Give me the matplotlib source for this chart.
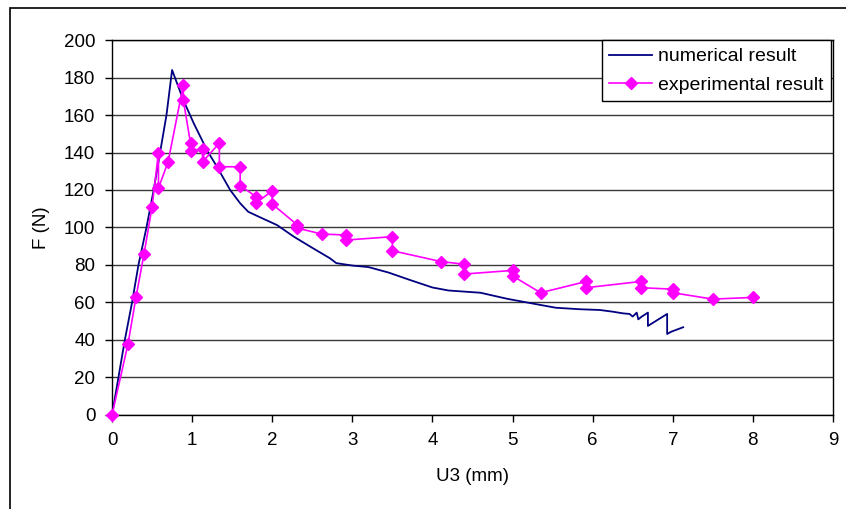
import matplotlib
matplotlib.use('Agg')
import matplotlib.pyplot as plt
from matplotlib.patches import Rectangle

plt.rcParams['font.family'] = ['Liberation Sans', 'DejaVu Sans']

# numerical result (FE curve)
u_num = [0.0, 0.08, 0.16, 0.25, 0.33, 0.43, 0.52, 0.60, 0.68, 0.75,
         0.89, 1.02, 1.185, 1.31, 1.475, 1.6, 1.70, 1.83, 2.06, 2.27,
         2.51, 2.72, 2.8, 3.0, 3.2, 3.45, 3.72, 4.0, 4.2, 4.6,
         4.93, 5.27, 5.54, 5.84, 6.09, 6.25, 6.38, 6.46, 6.50, 6.55,
         6.57, 6.61, 6.69, 6.69, 6.93, 6.93, 6.98, 7.13]
f_num = [0.0, 20, 40, 60, 80, 100, 120, 140, 160, 184,
         168, 155.6, 141.3, 132.4, 120, 112.9, 108.4, 105.8, 101.3, 95.1,
         88.9, 83.6, 81, 79.7, 78.9, 76, 72, 68, 66.4, 65.2,
         62, 59.3, 57.2, 56.4, 56, 55.1, 54.2, 53.9, 52.5, 54.6,
         51, 52.4, 54.6, 47.5, 53.9, 43.2, 44.4, 46.8]

# experimental result
u_exp = [0.0, 0.2, 0.3, 0.4, 0.5, 0.58, 0.58, 0.7, 0.89, 0.89,
         0.98, 0.98, 1.13, 1.13, 1.34, 1.34, 1.6, 1.6, 1.8, 1.8,
         2.0, 2.0, 2.31, 2.31, 2.62, 2.92, 2.92, 3.5, 3.5, 4.11,
         4.4, 4.4, 5.0, 5.0, 5.35, 5.92, 5.92, 6.6, 6.6, 7.0,
         7.0, 7.5, 8.0]
f_exp = [0.0, 38, 63, 86, 111, 140, 121, 135, 176, 168,
         145, 141, 142, 135, 145, 132.4, 132.4, 122.3, 116.4, 113.2,
         119.5, 112.5, 101.5, 99.7, 96.5, 96, 93.3, 95.1, 87.6, 81.8,
         80.4, 75.2, 77.1, 74.2, 65.2, 71.2, 67.9, 71.2, 67.9, 67.1,
         65.2, 61.8, 62.7]

fig = plt.figure(figsize=(8.46, 5.09), dpi=100)
ax = fig.add_axes([0.1324, 0.1847, 0.8522, 0.7367])

ax.set_axisbelow(True)
ax.yaxis.grid(True, color='#3a3a3a', linewidth=1.0)
ax.plot(u_num, f_num, color='#000080', linewidth=1.3, label='numerical result', zorder=3)
ax.plot(u_exp, f_exp, color='#ff00ff', linewidth=1.2, marker='D', markersize=6,
        label='experimental result', zorder=4, clip_on=False)

ax.set_xlim(0, 9)
ax.set_ylim(0, 200)
ax.set_xticks(range(0, 10))
ax.set_yticks(range(0, 201, 20))
ax.tick_params(direction='out', length=5, width=1, labelsize=13.5, colors='black', pad=7)
for s in ax.spines.values():
    s.set_color('black')
    s.set_linewidth(1.0)

ax.set_xlabel('U3 (mm)', fontsize=13.5, labelpad=14)
ax.set_ylabel('F (N)', fontsize=13.5, labelpad=10)

leg = ax.legend(loc='upper right', bbox_to_anchor=(0.9975, 1.0), fontsize=14,
                frameon=True, fancybox=False, framealpha=1, edgecolor='black',
                handlelength=2.2, handletextpad=0.3, borderpad=0.4,
                labelspacing=0.55, borderaxespad=0)
leg.get_frame().set_linewidth(1.0)

# outer chart frame
fig.patches.append(Rectangle((10 / 846, -0.1), 1.2, 1.1 - 8 / 509, transform=fig.transFigure,
                             fill=False, edgecolor='black', linewidth=1.2))

fig.savefig('out.png', dpi=100)
